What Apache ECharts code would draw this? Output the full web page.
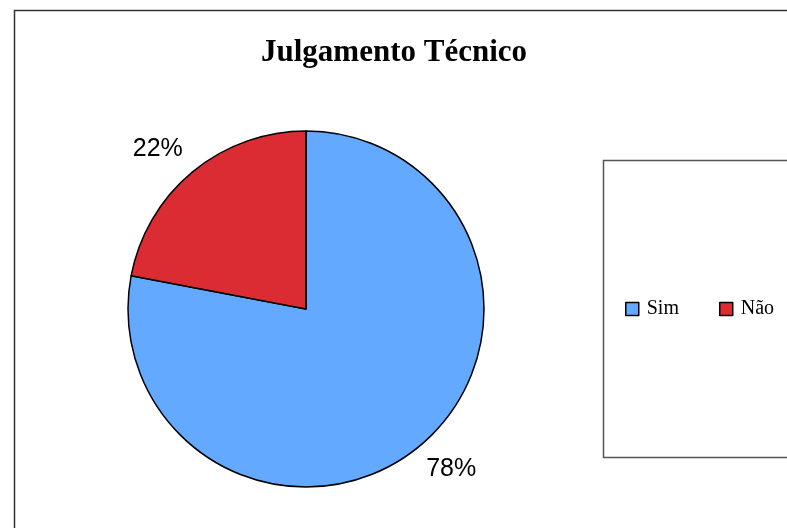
<!DOCTYPE html>
<html>
<head>
<meta charset="utf-8">
<script src="https://cdn.jsdelivr.net/npm/echarts@6/dist/echarts.min.js"></script>
<style>
  html, body { margin: 0; padding: 0; background: #fff; }
  #chart { width: 787px; height: 528px; }
</style>
</head>
<body>
<div id="chart"></div>
<script>
// dados do gráfico
var categories = ['Sim', 'Não']
var values = [78, 22]
var colors = ['#63a9ff', '#dc2c33']
// pequeno ajuste da posição de cada rótulo
var labelOffsets = [[5, -9], [-8, 10]]

var chart = echarts.init(document.getElementById('chart'))

var pieData = categories.map(function (name, i) {
  return { name: name, value: values[i], itemStyle: { color: colors[i] } }
})

chart.setOption({
  backgroundColor: '#fff',
  animation: false,
  title: {
    text: 'Julgamento Técnico',
    left: 389,
    top: 32,
    textAlign: 'center',
    textStyle: {
      fontFamily: 'Liberation Serif',
      fontWeight: 'bold',
      fontSize: 31,
      color: '#000'
    }
  },
  legend: {
    data: categories,
    left: 625,
    top: 299,
    padding: 0,
    orient: 'horizontal',
    itemWidth: 13,
    itemHeight: 13,
    itemGap: 40,
    icon: 'rect',
    itemStyle: { borderColor: '#000', borderWidth: 1.5 },
    textStyle: {
      fontFamily: 'Liberation Serif',
      fontSize: 20,
      color: '#000',
      padding: [0, 0, 0, 3]
    }
  },
  graphic: [
    {
      type: 'rect',
      shape: { x: 14.5, y: 10.5, width: 900, height: 700 },
      style: { fill: 'none', stroke: '#333', lineWidth: 1.5 },
      z: -1
    },
    {
      type: 'rect',
      shape: { x: 603.5, y: 160.5, width: 300, height: 297 },
      style: { fill: 'none', stroke: '#555', lineWidth: 1.5 },
      z: -1
    }
  ],
  series: [
    {
      type: 'pie',
      center: [306, 309],
      radius: [0, 178],
      startAngle: 90,
      clockwise: true,
      data: pieData,
      label: { show: false },
      labelLine: { show: false },
      itemStyle: { borderColor: '#000', borderWidth: 1.5 },
      emphasis: { disabled: true }
    },
    {
      // anel invisível só para posicionar os rótulos de percentagem
      type: 'pie',
      center: [306, 309],
      radius: [208, 226],
      startAngle: 90,
      clockwise: true,
      silent: true,
      data: pieData.map(function (d, i) {
        return {
          name: d.name,
          value: d.value,
          itemStyle: { color: 'transparent' },
          label: { offset: labelOffsets[i] }
        }
      }),
      label: {
        show: true,
        position: 'inside',
        formatter: '{c}%',
        fontFamily: 'Liberation Sans',
        fontSize: 25,
        color: '#000'
      },
      labelLine: { show: false },
      emphasis: { disabled: true }
    }
  ]
})
</script>
</body>
</html>
